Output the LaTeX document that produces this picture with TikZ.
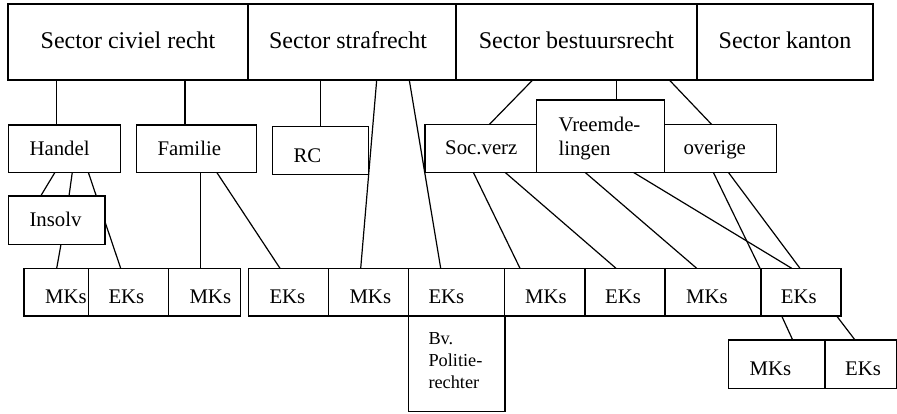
\documentclass[tikz,border=0pt]{standalone}
\usepackage{fontspec}
\setmainfont{Liberation Serif}
\usetikzlibrary{backgrounds}
\newcommand\mybox[5]{\node[box, minimum width={(#4)-(#2)}, minimum height={(#5)-(#3)}] (#1) at (#2,#3) {};}
\newcommand\myconn[4]{\draw[conn] ([xshift=#2]#1.south west) -- ([xshift=#4]#3.north west);}
\begin{document}
\begin{tikzpicture}[x=1pt,y=-1pt,
  box/.style={draw, fill=white, line width=1.2pt, inner sep=0pt, outer sep=0pt, anchor=north west},
  conn/.style={line width=1.2pt},
  bigtxt/.style={font=\fontsize{24}{28.8}\selectfont, inner sep=0pt, anchor=base},
  smtxt/.style={font=\fontsize{20.8}{24.3}\selectfont, inner sep=0pt, anchor=base west, align=left},
  tinytxt/.style={font=\fontsize{18.3}{21.7}\selectfont, inner sep=0pt, anchor=base west, align=left}]
\useasboundingbox (0,0) rectangle (897,414);
% top row
\mybox{civiel}{8}{4}{248}{80}
\mybox{straf}{248}{4}{456}{80}
\mybox{bestuur}{456}{4}{697}{80}
\mybox{kanton}{697}{4}{873}{80}
% middle row
\mybox{handel}{8.3}{125}{120.7}{172.3}
\mybox{familie}{136.7}{125}{256.7}{172.3}
\mybox{rc}{272.7}{126.7}{368.7}{174.3}
\mybox{socverz}{425}{124.5}{536.7}{172.3}
\mybox{vreemd}{536.7}{100}{664.3}{172.3}
\mybox{overige}{664.3}{124.5}{776.7}{172.3}
\mybox{insolv}{8.3}{196}{105}{244.3}
% bottom row
\mybox{mka}{24}{268.3}{105}{316}
\mybox{eka}{88.7}{268.3}{168.3}{316}
\mybox{mkb}{168.3}{268.3}{240.7}{316}
\mybox{ekb}{248.3}{268.3}{328.3}{316}
\mybox{mkc}{328.3}{268.3}{408.3}{316}
\mybox{ekc}{408.3}{268.3}{504.3}{316}
\mybox{mkd}{504.3}{268.3}{585}{316}
\mybox{ekd}{585}{268.3}{665}{316}
\mybox{mke}{665}{268.3}{761}{316}
\mybox{eke}{761}{268.3}{841}{316}
\mybox{bv}{408.3}{316}{505}{411.7}
\mybox{mkf}{728.3}{340}{825}{388.3}
\mybox{ekf}{825}{340}{896.7}{388.3}
% connectors
\begin{pgfonlayer}{background}
\myconn{civiel}{48.7}{handel}{48.4}
\myconn{civiel}{177}{familie}{48.3}
\myconn{straf}{72.7}{rc}{48}
\myconn{straf}{128.7}{mkc}{32.4}
\myconn{straf}{161.3}{ekc}{32.4}
\myconn{bestuur}{76.7}{socverz}{64.3}
\myconn{bestuur}{160.7}{vreemd}{80}
\myconn{bestuur}{213.3}{overige}{47.4}
\myconn{handel}{46.7}{insolv}{32.4}
\myconn{handel}{64}{insolv}{60.7}
\myconn{handel}{80}{eka}{32}
\myconn{insolv}{52.7}{mka}{32.7}
\myconn{familie}{64}{mkb}{32.4}
\myconn{familie}{80}{ekb}{31.7}
\myconn{socverz}{48.3}{mkd}{15.7}
\myconn{socverz}{80}{ekd}{31}
\myconn{vreemd}{48.3}{mke}{31.7}
\myconn{vreemd}{96.6}{eke}{30.7}
\myconn{overige}{49}{eke}{-1}
\myconn{overige}{64}{eke}{39}
\myconn{eke}{20.7}{mkf}{64.4}
\myconn{eke}{75.7}{ekf}{30}
\end{pgfonlayer}
% texts
\node[bigtxt] (tciviel) at (128,49) {Sector civiel recht};
\node[bigtxt] (tstraf) at (348,49) {Sector strafrecht};
\node[bigtxt] (tbestuur) at (576.5,49) {Sector bestuursrecht};
\node[bigtxt] (tkanton) at (785,49) {Sector kanton};
\node[smtxt] (thandel) at (29.3,155.3) {Handel};
\node[smtxt] (tfamilie) at (157.3,155.3) {Familie};
\node[smtxt] (trc) at (293.3,162.7) {RC};
\node[smtxt] (tsocverz) at (445,154.5) {Soc.verz};
\node[smtxt] (tvreemd) at (558.3,156) {Vreemde-\\lingen};
\node[smtxt] (toverige) at (683.3,155) {overige};
\node[smtxt] (tinsolv) at (29.3,226) {Insolv};
\node[smtxt] (tmka) at (45,303.5) {MKs};
\node[smtxt] (teka) at (108.3,303.5) {EKs};
\node[smtxt] (tmkb) at (189.3,303.5) {MKs};
\node[smtxt] (tekb) at (269.3,303.5) {EKs};
\node[smtxt] (tmkc) at (349.3,303.5) {MKs};
\node[smtxt] (tekc) at (428.3,303.5) {EKs};
\node[smtxt] (tmkd) at (525,303.5) {MKs};
\node[smtxt] (tekd) at (605,303.5) {EKs};
\node[smtxt] (tmke) at (686,303.5) {MKs};
\node[smtxt] (teke) at (780.7,303.5) {EKs};
\node[smtxt] (tmkf) at (749.3,375) {MKs};
\node[smtxt] (tekf) at (845,375) {EKs};
\node[tinytxt] (tbv) at (428.3,388.3) {Bv.\\Politie-\\rechter};
\end{tikzpicture}
\end{document}
